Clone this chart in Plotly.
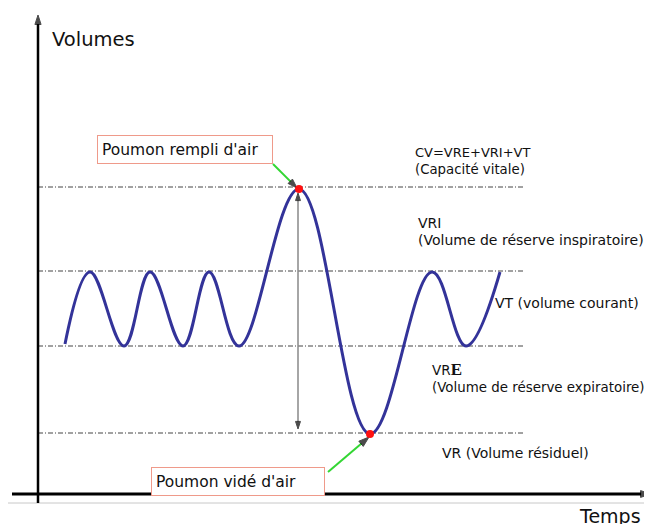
import plotly.graph_objects as go

# ---- data (time t, lung volume v; arbitrary schematic units) ----
t_curve = [27, 52, 86, 112, 145, 171, 201, 261, 332, 394, 428, 462]
v_curve = [150, 222, 148, 222, 148, 222, 148, 305, 60, 222, 148, 222]

# reference levels: CPT (top of CV), top of VT, CRF (bottom of VT), VR
level_names = ["CPT", "VT_haut", "CRF", "VR"]
level_values = [307, 223, 148, 61]
level_t_end = 487

# extreme points highlighted (full inspiration / full expiration)
extreme_idx = [7, 8]

FONT = "DejaVu Sans"
CURVE = "#333399"
GREEN = "#33d633"
SALMON = "#ef9a8a"

fig = go.Figure()

# horizontal dash-dot level lines
for v in level_values:
    fig.add_trace(go.Scatter(x=[0, level_t_end], y=[v, v], mode="lines",
                             line=dict(color="#444444", width=1, dash="5px,2px,1px,2px"),
                             hoverinfo="skip"))

# gray baseline under x axis
fig.add_trace(go.Scatter(x=[-30, 614], y=[-9, -9], mode="lines",
                         line=dict(color="#c8c8c8", width=1), hoverinfo="skip"))


def arrow_line(x, y, color, width, head_color="black", head_size=10):
    fig.add_trace(go.Scatter(
        x=x, y=y, mode="lines+markers",
        line=dict(color=color, width=width),
        marker=dict(symbol="arrow", size=[0] * (len(x) - 1) + [head_size],
                    angleref="previous", color=head_color,
                    line=dict(width=1, color=head_color)),
        hoverinfo="skip"))


# axes with arrows
arrow_line([0, 0], [-9, 479], "black", 2.5, head_size=10)
arrow_line([-26, 613], [0, 0], "black", 3, head_size=11)

# vertical double arrow (CV)
arrow_line([260, 260], [180, 301], "#888888", 1.5, head_size=8)
arrow_line([260, 260], [180, 65], "#888888", 1.5, head_size=8)

# breathing curve
fig.add_trace(go.Scatter(x=t_curve, y=v_curve, mode="lines",
                         line=dict(color=CURVE, width=3, shape="spline", smoothing=1.1),
                         hoverinfo="skip"))

# green pointer lines with black heads
arrow_line([235, 259], [330, 306], GREEN, 2, head_size=10)
arrow_line([290, 331], [22, 57], GREEN, 2, head_size=11)

# red points at extremes
fig.add_trace(go.Scatter(x=[t_curve[i] for i in extreme_idx],
                         y=[v_curve[i] for i in extreme_idx],
                         mode="markers", marker=dict(color="#ff1111", size=8),
                         hoverinfo="skip"))

annotations = []


def label(text, x, y, size=14, **kw):
    d = dict(text=text, x=x, y=y, xref="x", yref="y", showarrow=False,
             xanchor="left", yanchor="middle",
             font=dict(family=FONT, size=size, color="#111111"))
    d.update(kw)
    annotations.append(d)


label("Volumes", 12, 455, size=19.5)
label("Temps", 539, -22, size=19)
label("CV=VRE+VRI+VT", 375, 342, size=13)
label("(Capacité vitale)", 375, 325, size=13.3)
label("VRI", 378, 271, size=14)
label("(Volume de réserve inspiratoire)", 378, 254, size=14)
label("VT (volume courant)", 455, 191, size=14)
label('VR<span style="font-family:Liberation Serif;font-weight:bold;font-size:17px">E</span>',
      392, 125, size=13.5)
label("(Volume de réserve expiratoire)", 392, 107, size=13.4)
label("VR (Volume résiduel)", 402, 41, size=14)

label("Poumon rempli d'air", 147, 344.5, size=15.5, xanchor="center",
      width=166, height=19, align="left", bordercolor=SALMON, borderwidth=1,
      borderpad=4, bgcolor="white")
label("Poumon vidé d'air", 200, 12.5, size=15.5, xanchor="center",
      width=164, height=19, align="left", bordercolor=SALMON, borderwidth=1,
      borderpad=4, bgcolor="white")

# page body adds an 8px offset; figure covers the remaining window area
fig.update_layout(
    width=644, height=516,
    margin=dict(l=0, r=0, t=0, b=0),
    paper_bgcolor="white", plot_bgcolor="white",
    showlegend=False,
    xaxis=dict(range=[-30, 614], visible=False, fixedrange=True),
    yaxis=dict(range=[-30, 486], visible=False, fixedrange=True),
    annotations=annotations,
)

fig.write_html("out.html")
